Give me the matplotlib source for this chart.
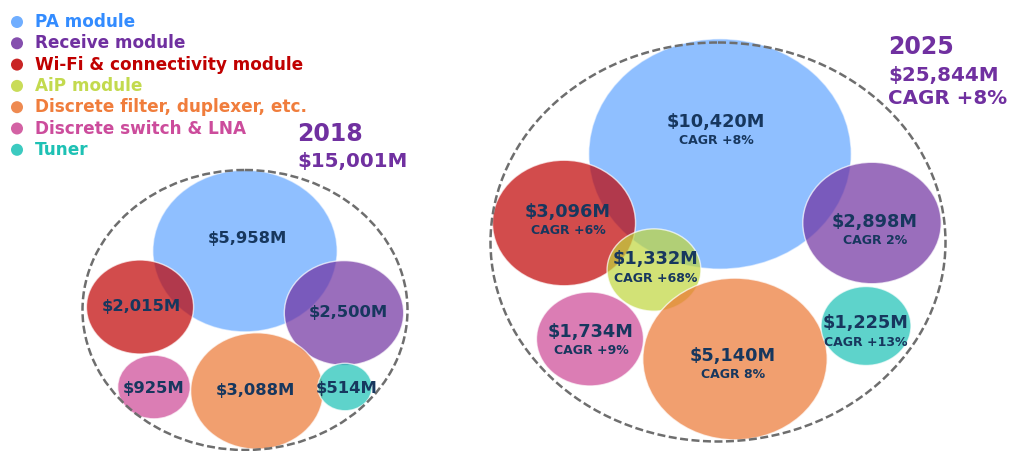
import matplotlib.pyplot as plt
from matplotlib.patches import Ellipse
import numpy as np

plt.rcParams['font.family'] = ['DejaVu Sans']

# ---- data -------------------------------------------------------------
categories = ['PA module', 'Receive module', 'Wi-Fi & connectivity module',
              'AiP module', 'Discrete filter, duplexer, etc.',
              'Discrete switch & LNA', 'Tuner']
values_2018 = [5958, 2500, 2015, 0, 3088, 925, 514]
values_2025 = [10420, 2898, 3096, 1332, 5140, 1734, 1225]
cagr_2025 = ['CAGR +8%', 'CAGR 2%', 'CAGR +6%', 'CAGR +68%',
             'CAGR 8%', 'CAGR +9%', 'CAGR +13%']
total_2018 = 15001
total_2025 = 25844
cagr_total = 'CAGR +8%'

# ---- style / layout ---------------------------------------------------
colors = ['#338CFF', '#7030A0', '#C00000', '#C0D63C', '#EC7632', '#CC4694', '#1AC1B5']
alphas = [0.55, 0.7, 0.7, 0.7, 0.7, 0.7, 0.7]
text_colors = ['#338CFF', '#7030A0', '#C00000', '#C3DA4E', '#F07D3C', '#CC4C9C', '#1EC1B4']
label_color = '#17375E'
title_color = '#7030A0'
draw_order = [0, 2, 1, 3, 4, 5, 6]
aspect = 1.14  # bubbles are stretched horizontally

# bubble centres (pixels) from the packing of the original
centres_2018 = [(245, 251), (344, 313), (140, 307), None, (257, 391), (154, 387), (345, 387)]
labels_2018 = [(247, 239), (348, 313), (141, 307), None, (255, 391), (154, 388), (347, 389)]
centres_2025 = [(720, 154), (872, 223), (564, 223), (654, 270), (735, 359), (590, 339), (866, 326)]
labels_2025 = [(716, 122), (875, 222), (568, 212), (656, 259), (733, 356), (591, 332), (866, 323)]

fig = plt.figure(figsize=(10.19, 4.51), dpi=100)
ax = fig.add_axes([0, 0, 1, 1])
ax.set_xlim(0, 1019)
ax.set_ylim(451, 0)
ax.axis('off')


def bubbles(values, centres, k):
    for i in draw_order:
        if values[i] <= 0:
            continue
        h = np.sqrt(k * values[i] / aspect)
        e = Ellipse(centres[i], aspect * h, h, facecolor=colors[i], alpha=alphas[i],
                    edgecolor='white', linewidth=1, zorder=2)
        ax.add_patch(e)


# outer dashed rings
for c, w, h in [((245, 310), 325, 280), ((718, 242), 455, 399)]:
    ring = Ellipse(c, w, h, facecolor='none', edgecolor='#6e6e6e',
                   linewidth=1.8, linestyle=(0, (3.2, 1.4)), zorder=3)
    ax.add_patch(ring)

bubbles(values_2018, centres_2018, 5.0)
bubbles(values_2025, centres_2025, 5.8)

for i, v in enumerate(values_2018):
    if v > 0:
        x, y = labels_2018[i]
        ax.text(x, y, f'${v:,}M', ha='center', va='center', fontsize=11.8,
                fontweight='bold', color=label_color, zorder=5)

for i, v in enumerate(values_2025):
    x, y = labels_2025[i]
    ax.text(x, y, f'${v:,}M', ha='center', va='center', fontsize=12.8,
            fontweight='bold', color=label_color, zorder=5)
    ax.text(x, y + 19, cagr_2025[i], ha='center', va='center', fontsize=9,
            fontweight='bold', color=label_color, zorder=5)

# titles
ax.text(297, 134, '2018', ha='left', va='center', fontsize=17,
        fontweight='bold', color=title_color)
ax.text(297, 161, f'${total_2018:,}M', ha='left', va='center', fontsize=14.3,
        fontweight='bold', color=title_color)
ax.text(888, 47, '2025', ha='left', va='center', fontsize=17,
        fontweight='bold', color=title_color)
ax.text(888, 75, f'${total_2025:,}M', ha='left', va='center', fontsize=14.3,
        fontweight='bold', color=title_color)
ax.text(888, 98, cagr_total, ha='left', va='center', fontsize=14.3,
        fontweight='bold', color=title_color)

# legend
for i, name in enumerate(categories):
    y = 22 + i * 21.3
    ax.scatter(17, y, s=75, color=colors[i], alpha=alphas[i] + 0.15, edgecolors='none')
    ax.text(35, y, name, ha='left', va='center', fontsize=12.2,
            fontweight='bold', color=text_colors[i])

fig.savefig('out.png', dpi=100)
